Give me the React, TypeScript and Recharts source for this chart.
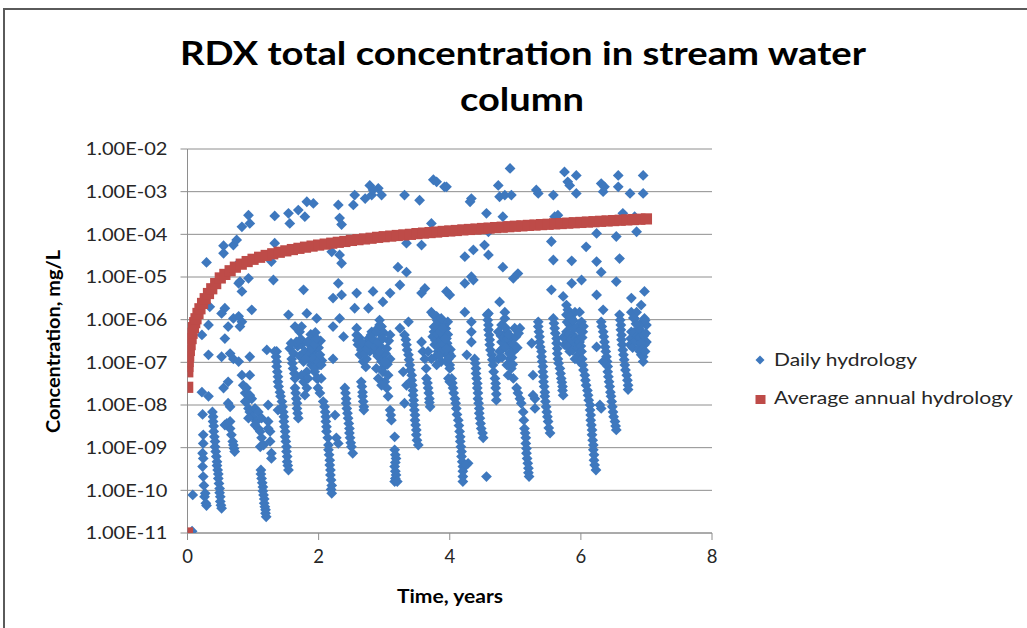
import React from 'react';
import { ScatterChart, Scatter, XAxis, YAxis, CartesianGrid } from 'recharts';

const chartTitle = ['RDX total concentration in stream water', 'column'];
const xAxisTitle = 'Time, years';
const yAxisTitle = 'Concentration, mg/L';
const seriesNames = ['Daily hydrology', 'Average annual hydrology'];
const xTicks = [0, 2, 4, 6, 8];
const yTicks = [1e-11, 1e-10, 1e-9, 1e-8, 1e-7, 1e-6, 1e-5, 1e-4, 1e-3, 1e-2];
const yTickLabels = ['1.00E-11', '1.00E-10', '1.00E-09', '1.00E-08', '1.00E-07', '1.00E-06', '1.00E-05', '1.00E-04', '1.00E-03', '1.00E-02'];

// Daily hydrology, year 0-2 (time in years, concentration mg/L)
const dailyYears0to2: [number, number][] = [
  [0.07, 1.1e-11], [0.08, 7.8e-11],
  [0.29, 2.2e-5], [0.55, 5.4e-5], [0.55, 3.6e-5], [0.70, 5.6e-5], [0.75, 7.4e-5], [0.83, 1.5e-4], [0.93, 2.8e-4], [0.95, 1.8e-4],
  [0.57, 1.85e-6], [0.52, 1.4e-6], [0.34, 2.0e-6], [0.32, 7.5e-7], [0.22, 4.4e-7], [0.62, 6.9e-7], [0.57, 3.6e-7], [0.70, 1.07e-6],
  [0.78, 1.2e-6], [0.83, 8.9e-7], [0.80, 6.9e-7], [0.98, 1.7e-6], [0.78, 7.1e-6], [0.83, 4.6e-6], [0.93, 9.3e-6], [0.80, 7.8e-6], [0.75, 1.9e-5],
  [1.33, 2.7e-4], [1.33, 6.2e-5], [1.28, 2.3e-5], [1.31, 8.5e-6], [1.54, 3.1e-4], [1.56, 1.8e-4], [1.69, 3.7e-4], [1.82, 5.8e-4], [1.92, 5.3e-4],
  [1.79, 2.6e-4], [1.77, 5.0e-6], [1.54, 1.3e-6], [1.64, 6.9e-7], [1.82, 1.4e-6], [1.74, 6.9e-7],
  [0.32, 1.5e-7], [0.52, 1.35e-7], [0.65, 1.6e-7], [0.70, 1.2e-7], [0.78, 1.04e-7], [0.95, 1.35e-7], [1.21, 1.95e-7], [1.36, 1.8e-7],
  [0.22, 2.0e-8], [0.32, 1.6e-8], [0.55, 2.5e-8], [0.62, 3.5e-8], [0.83, 5.0e-8], [0.95, 5.0e-8], [0.62, 1.1e-8], [0.65, 9.1e-9],
  [1.23, 1.0e-8], [1.38, 7.6e-9], [1.11, 1.05e-9],
  [0.23, 6.0e-9], [0.24, 2.0e-9], [0.24, 1.26e-9], [0.23, 7.4e-10], [0.24, 5.6e-10], [0.23, 3.6e-10], [0.24, 2.1e-10], [0.25, 1.3e-10],
  [0.26, 7.1e-11], [0.27, 8.5e-11], [0.28, 5.0e-11], [0.29, 4.4e-11],
  [0.38, 6.9e-9], [0.39, 5.3e-9], [0.39, 4.1e-9], [0.40, 3.2e-9], [0.40, 2.4e-9], [0.41, 1.8e-9], [0.42, 1.4e-9], [0.42, 1.05e-9],
  [0.43, 8.1e-10], [0.44, 6.2e-10], [0.45, 4.7e-10], [0.45, 3.8e-10], [0.46, 3.0e-10], [0.47, 2.4e-10], [0.47, 1.9e-10], [0.48, 1.45e-10],
  [0.49, 1.1e-10], [0.49, 8.8e-11], [0.50, 7.1e-11], [0.50, 5.5e-11], [0.51, 4.5e-11], [0.52, 3.8e-11],
  [0.60, 3.7e-9], [0.65, 2.8e-9], [0.67, 2.0e-9], [0.69, 1.4e-9], [0.71, 9.6e-10], [0.72, 8.1e-10], [0.57, 3.4e-9], [0.65, 4.1e-9], [0.70, 1.15e-9],
  [0.85, 2.9e-8], [0.88, 1.9e-8], [0.90, 1.2e-8], [0.93, 8.3e-9], [0.95, 6.9e-9], [1.00, 5.3e-9], [1.05, 4.1e-9], [1.08, 2.8e-9],
  [1.11, 2.4e-9], [1.13, 1.7e-9], [0.98, 1.4e-8], [1.03, 8.3e-9], [1.08, 6.9e-9], [1.13, 4.9e-9], [0.90, 2.5e-8], [0.95, 1.7e-8],
  [0.88, 1.2e-8], [0.93, 4.9e-9], [1.03, 3.4e-9], [1.16, 1.15e-9],
  [1.12, 3.0e-10], [1.12, 2.4e-10], [1.13, 1.9e-10], [1.14, 1.5e-10], [1.15, 1.2e-10], [1.15, 9.6e-11], [1.16, 7.8e-11], [1.17, 6.3e-11],
  [1.17, 5.0e-11], [1.18, 4.1e-11], [1.19, 3.5e-11], [1.19, 2.9e-11], [1.20, 2.4e-11],
  [1.23, 4.1e-9], [1.26, 2.4e-9], [1.26, 1.4e-9], [1.28, 7.4e-10], [1.28, 5.6e-10], [1.23, 2.8e-9],
  [1.33, 1.8e-7], [1.35, 1.35e-7], [1.36, 1.04e-7], [1.36, 8.0e-8], [1.37, 6.0e-8], [1.38, 4.6e-8], [1.38, 3.5e-8], [1.39, 2.7e-8],
  [1.41, 2.0e-8], [1.42, 1.6e-8], [1.44, 1.2e-8], [1.45, 9.1e-9], [1.46, 6.9e-9], [1.47, 5.3e-9], [1.47, 4.1e-9], [1.48, 3.1e-9],
  [1.49, 2.4e-9], [1.49, 1.8e-9], [1.50, 1.4e-9], [1.51, 1.05e-9], [1.51, 8.1e-10], [1.52, 6.2e-10], [1.52, 4.7e-10], [1.53, 3.8e-10], [1.54, 3.0e-10],
  [1.56, 2.1e-7], [1.59, 1.2e-7], [1.60, 9.5e-8], [1.61, 7.2e-8], [1.63, 5.5e-8], [1.64, 4.2e-8], [1.64, 2.5e-8], [1.65, 1.9e-8],
  [1.66, 1.4e-8], [1.67, 1.1e-8], [1.67, 8.3e-9], [1.68, 6.4e-9], [1.69, 4.9e-9],
  [1.74, 2.6e-7], [1.79, 1.8e-7], [1.84, 1.2e-7], [1.89, 8.7e-8], [1.94, 6.0e-8], [1.99, 4.2e-8], [1.77, 1.04e-7], [1.82, 6.0e-8],
  [1.87, 2.6e-7], [1.92, 1.8e-7], [1.97, 1.2e-7], [2.02, 8.7e-8], [1.74, 5.0e-8], [1.82, 2.5e-8], [1.77, 3.5e-8], [1.79, 1.7e-8],
  [1.84, 4.2e-8], [1.89, 3.6e-7], [1.71, 5.2e-7], [1.97, 3.0e-7],
  [1.62, 1.6e-7], [1.68, 2.4e-7], [1.71, 1.4e-7], [1.73, 3.5e-7], [1.66, 3.0e-7], [1.58, 2.8e-7],
  [1.86, 1.5e-7], [1.90, 2.2e-7], [1.93, 1.4e-7], [1.96, 9.0e-8], [2.00, 1.3e-7], [1.88, 4.5e-7], [1.92, 3.0e-7], [1.95, 5.0e-7],
  [2.00, 2.2e-7], [2.03, 3.2e-7], [2.05, 1.1e-7], [1.83, 3.0e-7], [1.80, 1.2e-7],
];

// Daily hydrology, years 2-4
const dailyYears2to4: [number, number][] = [
  [2.30, 4.9e-4], [2.32, 2.4e-4], [2.35, 1.7e-4], [2.53, 4.9e-4], [2.55, 8.3e-4], [2.71, 6.9e-4], [2.78, 1.4e-3], [2.81, 8.3e-4],
  [2.91, 1.2e-3], [2.96, 8.3e-4], [3.31, 8.3e-4], [3.54, 6.3e-4], [3.75, 1.9e-3], [3.80, 1.7e-3], [3.92, 1.3e-3], [2.83, 1.1e-3],
  [2.20, 3.9e-5], [2.32, 3.3e-5], [2.35, 2.1e-5], [3.34, 6.2e-5], [3.57, 5.6e-5], [3.21, 1.7e-5], [3.34, 1.3e-5], [3.72, 1.8e-4],
  [2.30, 7.1e-6], [2.22, 3.2e-6], [2.35, 3.8e-6], [2.58, 4.2e-6], [2.55, 1.85e-6], [2.76, 1.85e-6], [2.83, 4.6e-6], [2.98, 2.6e-6],
  [3.09, 4.2e-6], [3.24, 6.5e-6], [3.57, 4.2e-6], [3.62, 5.4e-6], [3.95, 4.6e-6],
  [1.97, 1.07e-6], [2.32, 1.07e-6], [2.22, 6.9e-7], [2.38, 4.0e-7], [2.58, 6.3e-7], [2.93, 9.8e-7], [2.96, 6.9e-7], [3.24, 6.3e-7],
  [3.37, 8.9e-7], [3.72, 1.5e-6], [3.80, 1.2e-6], [2.22, 1.2e-7],
  [1.89, 2.1e-7], [1.92, 1.2e-7], [1.94, 7.2e-8], [1.97, 4.2e-8], [1.99, 2.5e-8], [2.02, 1.9e-8], [1.99, 1.04e-7], [1.94, 2.6e-7],
  [2.04, 4.2e-8], [1.97, 3.6e-7], [2.04, 8.7e-8], [2.02, 1.5e-7],
  [2.07, 1.2e-8], [2.09, 9.1e-9], [2.10, 6.9e-9], [2.11, 5.3e-9], [2.11, 4.1e-9], [2.12, 3.1e-9], [2.12, 2.4e-9], [2.14, 1.7e-9],
  [2.15, 1.15e-9], [2.15, 8.9e-10], [2.16, 6.8e-10], [2.17, 5.1e-10], [2.17, 3.9e-10], [2.18, 3.0e-10], [2.18, 2.3e-10], [2.19, 1.75e-10],
  [2.20, 1.3e-10], [2.19, 1.05e-10], [2.20, 8.5e-11],
  [2.27, 1.7e-9], [2.30, 1.26e-9], [2.25, 5.8e-9],
  [2.40, 2.5e-8], [2.41, 1.9e-8], [2.42, 1.4e-8], [2.42, 1.1e-8], [2.43, 8.3e-9], [2.44, 6.4e-9], [2.45, 4.9e-9], [2.46, 3.7e-9],
  [2.47, 2.8e-9], [2.47, 2.2e-9], [2.48, 1.7e-9], [2.49, 1.3e-9], [2.50, 1.05e-9], [2.52, 7.4e-10],
  [2.58, 4.4e-7], [2.60, 2.6e-7], [2.63, 1.5e-7], [2.68, 1.04e-7], [2.73, 1.2e-7], [2.78, 1.8e-7], [2.71, 2.6e-7], [2.76, 3.6e-7],
  [2.81, 5.2e-7], [2.83, 2.6e-7], [2.86, 1.8e-7], [2.59, 3.3e-7], [2.65, 1.95e-7], [2.72, 7.8e-8],
  [2.62, 3.8e-7], [2.66, 2.9e-7], [2.70, 1.6e-7], [2.74, 2.1e-7], [2.78, 2.7e-7], [2.80, 4.4e-7], [2.84, 3.4e-7], [2.87, 2.3e-7],
  [2.90, 1.4e-7], [2.94, 2.4e-7], [2.97, 1.4e-7], [3.00, 8.0e-8], [3.02, 1.6e-7], [3.05, 9.0e-8], [2.95, 4.5e-7], [2.90, 6.2e-7],
  [2.99, 5.0e-7], [3.07, 3.2e-7],
  [2.65, 3.5e-8], [2.66, 2.7e-8], [2.67, 2.0e-8], [2.67, 1.6e-8], [2.68, 1.2e-8], [2.69, 9.1e-9], [2.69, 7.6e-9],
  [2.88, 5.2e-7], [2.91, 3.0e-7], [2.93, 1.8e-7], [2.96, 1.04e-7], [2.98, 6.0e-8], [3.01, 3.5e-8], [3.04, 2.5e-8], [3.06, 1.6e-8],
  [2.93, 7.5e-7], [2.98, 3.6e-7], [3.04, 2.1e-7], [3.09, 1.2e-7], [2.91, 4.2e-8], [2.96, 2.9e-8], [3.01, 1.04e-7], [3.06, 5.0e-8],
  [2.88, 7.2e-8], [3.09, 4.4e-7],
  [3.09, 7.6e-9], [3.10, 5.8e-9], [3.11, 4.4e-9], [3.16, 1.8e-9],
  [3.16, 8.9e-10], [3.17, 6.8e-10], [3.18, 5.6e-10], [3.17, 4.5e-10], [3.16, 3.6e-10], [3.17, 2.8e-10], [3.18, 2.3e-10], [3.17, 1.9e-10],
  [3.16, 1.6e-10], [3.20, 1.6e-10],
  [3.31, 4.4e-7], [3.33, 3.4e-7], [3.34, 2.6e-7], [3.35, 1.95e-7], [3.37, 1.5e-7], [3.38, 1.15e-7], [3.39, 8.7e-8], [3.40, 6.6e-8],
  [3.42, 5.0e-8], [3.42, 3.8e-8], [3.43, 2.9e-8], [3.44, 2.2e-8], [3.44, 1.7e-8], [3.45, 1.3e-8], [3.45, 1.0e-8], [3.46, 7.6e-9],
  [3.47, 5.8e-9], [3.47, 4.4e-9], [3.48, 3.4e-9], [3.49, 2.6e-9], [3.49, 2.0e-9], [3.50, 1.5e-9], [3.52, 1.15e-9],
  [3.34, 2.9e-8], [3.31, 1.1e-8], [3.29, 6.0e-8],
  [3.57, 3.0e-7], [3.59, 1.8e-7], [3.62, 1.2e-7], [3.67, 1.8e-7], [3.64, 7.2e-8], [3.645, 4.2e-8], [3.66, 3.3e-8], [3.67, 2.5e-8],
  [3.68, 1.9e-8], [3.69, 1.4e-8], [3.69, 1.15e-8], [3.70, 9.1e-9],
  [3.75, 1.3e-6], [3.80, 7.5e-7], [3.85, 4.4e-7], [3.90, 2.6e-7], [3.95, 1.5e-7], [4.00, 8.7e-8], [3.77, 2.6e-7], [3.82, 1.8e-7],
  [3.87, 1.04e-7], [3.92, 5.2e-7], [3.97, 8.9e-7], [4.00, 3.5e-8], [3.76, 5.2e-7], [3.85, 2.6e-7], [3.90, 7.5e-7], [3.95, 3.6e-7],
  [3.80, 8.7e-8], [3.72, 1.2e-7],
  [3.74, 4.0e-7], [3.78, 3.3e-7], [3.81, 4.6e-7], [3.83, 2.2e-7], [3.86, 3.3e-7], [3.88, 1.9e-7], [3.91, 3.9e-7], [3.93, 2.7e-7],
  [3.96, 2.8e-7], [3.99, 1.6e-7], [4.01, 2.0e-7], [3.79, 1.4e-7], [3.84, 1.4e-7], [3.89, 8.5e-7], [3.94, 6.2e-7], [3.97, 4.5e-7],
  [4.02, 1.4e-7], [3.76, 6.8e-7], [3.81, 9.5e-7],
];

// Daily hydrology, years 4-6
const dailyYears4to6: [number, number][] = [
  [3.95, 1.3e-3], [4.31, 5.8e-4], [4.33, 6.9e-4], [4.56, 3.1e-4], [4.74, 1.4e-3], [4.76, 7.6e-4], [4.84, 8.3e-4], [4.92, 3.5e-3],
  [4.94, 8.3e-4], [4.81, 2.6e-4], [5.32, 1.1e-3], [5.35, 9.1e-4], [5.58, 8.3e-4], [5.60, 2.6e-4], [5.65, 2.8e-4], [5.75, 2.9e-3],
  [5.80, 1.7e-3], [5.83, 1.4e-3], [5.93, 2.4e-3], [5.93, 9.1e-4],
  [4.59, 1.15e-4], [4.53, 5.6e-5], [4.59, 3.3e-5], [4.36, 4.3e-5], [4.23, 3.0e-5], [5.55, 6.8e-5], [5.58, 2.5e-5], [5.86, 2.4e-5],
  [4.81, 1.7e-5], [4.97, 9.3e-6], [5.04, 1.2e-5], [4.23, 7.1e-6], [4.33, 1.02e-5], [4.36, 8.5e-6], [4.00, 3.8e-6], [4.76, 2.6e-6],
  [5.55, 5.0e-6], [5.73, 3.5e-6], [5.86, 7.1e-6], [5.78, 2.2e-6], [5.80, 1.7e-6],
  [4.23, 1.5e-6], [4.84, 1.5e-6], [4.59, 1.4e-6], [4.26, 1.5e-7], [5.25, 2.8e-7], [5.27, 5.0e-8],
  [3.85, 5.2e-7], [3.87, 1.07e-6], [3.90, 6.3e-7], [3.90, 2.6e-7], [3.93, 3.6e-7], [3.95, 2.1e-7], [3.95, 1.04e-7], [3.98, 1.2e-7],
  [3.98, 4.2e-8], [4.00, 7.2e-8], [4.03, 4.2e-8], [4.04, 3.3e-8], [4.05, 2.5e-8], [4.06, 1.9e-8], [4.08, 1.4e-8], [4.09, 1.1e-8],
  [4.10, 8.3e-9], [4.11, 6.0e-9], [4.13, 4.4e-9], [4.14, 3.3e-9], [4.15, 2.4e-9], [4.16, 1.8e-9], [4.16, 1.4e-9], [4.17, 1.05e-9],
  [4.18, 8.1e-10], [4.18, 6.2e-10], [4.19, 4.7e-10], [4.20, 3.6e-10], [4.20, 2.8e-10], [4.20, 2.1e-10], [4.20, 1.6e-10],
  [4.28, 4.3e-10], [4.25, 3.9e-10],
  [4.33, 8.9e-7], [4.33, 5.2e-7], [4.33, 3.0e-7],
  [4.38, 1.2e-7], [4.39, 9.5e-8], [4.40, 7.2e-8], [4.40, 5.5e-8], [4.41, 4.2e-8], [4.42, 3.2e-8], [4.42, 2.5e-8], [4.43, 1.9e-8],
  [4.43, 1.4e-8], [4.44, 1.1e-8], [4.45, 8.3e-9], [4.45, 6.4e-9], [4.46, 4.9e-9], [4.47, 3.7e-9], [4.48, 2.8e-9], [4.50, 2.2e-9], [4.51, 1.7e-9],
  [4.56, 2.1e-10],
  [4.57, 1.3e-6], [4.58, 9.8e-7], [4.59, 7.5e-7], [4.59, 5.8e-7], [4.60, 4.4e-7], [4.61, 3.4e-7], [4.61, 2.6e-7], [4.62, 1.95e-7],
  [4.64, 1.5e-7], [4.65, 1.15e-7], [4.66, 8.7e-8], [4.67, 6.0e-8], [4.69, 4.2e-8], [4.70, 3.2e-8], [4.70, 2.5e-8], [4.71, 1.8e-8], [4.71, 1.3e-8],
  [4.74, 5.2e-7], [4.79, 7.5e-7], [4.84, 1.07e-6], [4.87, 5.2e-7], [4.89, 2.6e-7], [4.92, 1.2e-7], [4.94, 7.2e-8], [4.97, 4.2e-8],
  [5.02, 2.5e-8], [5.07, 1.4e-8], [4.81, 2.1e-7], [4.87, 8.7e-8], [4.76, 1.8e-7], [4.99, 6.3e-7], [5.07, 6.3e-7], [4.79, 3.0e-7],
  [4.92, 3.6e-7], [4.97, 1.8e-7], [4.89, 5.0e-8], [5.04, 1.9e-8], [5.09, 1.1e-8], [4.74, 1.2e-7],
  [4.78, 4.2e-7], [4.82, 3.8e-7], [4.85, 6.5e-7], [4.88, 3.6e-7], [4.90, 4.5e-7], [4.93, 2.5e-7], [4.95, 1.3e-7], [4.98, 2.6e-7],
  [5.01, 4.0e-7], [5.03, 2.2e-7], [4.80, 1.3e-7], [4.85, 2.2e-7], [4.91, 1.6e-7], [4.96, 9.0e-8], [5.05, 4.8e-7],
  [5.12, 6.9e-9], [5.13, 4.4e-9], [5.14, 2.8e-9], [5.15, 2.2e-9], [5.16, 1.7e-9], [5.16, 1.26e-9], [5.17, 9.6e-10], [5.17, 7.4e-10],
  [5.18, 5.6e-10], [5.19, 4.3e-10], [5.20, 3.3e-10], [5.20, 2.6e-10], [5.21, 2.1e-10],
  [5.30, 1.4e-8], [5.30, 8.3e-9], [5.27, 1.7e-8],
  [5.35, 8.9e-7], [5.35, 6.9e-7], [5.36, 5.2e-7], [5.37, 4.0e-7], [5.37, 3.0e-7], [5.38, 2.3e-7], [5.40, 1.8e-7], [5.40, 1.35e-7],
  [5.41, 1.04e-7], [5.42, 8.0e-8], [5.42, 6.0e-8], [5.43, 4.6e-8], [5.43, 3.5e-8], [5.44, 2.7e-8], [5.45, 2.0e-8], [5.45, 1.6e-8],
  [5.46, 1.2e-8], [5.47, 9.1e-9], [5.48, 6.9e-9], [5.49, 5.3e-9], [5.50, 4.1e-9], [5.51, 2.9e-9], [5.53, 2.2e-9],
  [5.58, 1.07e-6], [5.59, 8.2e-7], [5.60, 6.3e-7], [5.61, 4.8e-7], [5.63, 3.6e-7], [5.63, 2.8e-7], [5.64, 2.1e-7], [5.64, 1.6e-7],
  [5.65, 1.2e-7], [5.66, 9.5e-8], [5.68, 7.2e-8], [5.69, 5.5e-8], [5.70, 4.2e-8], [5.71, 3.4e-8], [5.72, 2.7e-8], [5.72, 2.2e-8], [5.73, 1.7e-8],
  [5.78, 1.3e-6], [5.83, 7.5e-7], [5.88, 4.4e-7], [5.93, 2.6e-7], [5.96, 1.5e-7], [5.98, 1.04e-7], [5.75, 2.6e-7], [5.80, 3.6e-7],
  [5.86, 1.07e-6], [5.91, 1.5e-6], [5.78, 5.2e-7], [5.86, 2.6e-7], [5.91, 1.2e-7], [5.83, 1.8e-7],
  [5.74, 4.0e-7], [5.77, 3.4e-7], [5.80, 2.3e-7], [5.82, 4.6e-7], [5.85, 3.5e-7], [5.87, 1.9e-7], [5.89, 6.2e-7], [5.92, 3.6e-7],
  [5.95, 2.2e-7], [5.97, 3.5e-7], [5.79, 8.8e-7], [5.84, 1.2e-6], [5.88, 9.5e-7], [5.94, 6.8e-7],
];

// Daily hydrology, years 6-7
const dailyYears6to7: [number, number][] = [
  [6.31, 1.55e-3], [6.34, 1.0e-3], [6.36, 1.3e-3], [6.57, 2.4e-3], [6.57, 1.3e-3], [6.75, 9.1e-4], [6.95, 2.4e-3], [6.95, 9.1e-4],
  [6.64, 3.1e-4], [6.82, 2.6e-4], [6.85, 1.15e-4], [6.24, 1.05e-4], [6.54, 8.9e-5], [6.08, 5.1e-5], [6.59, 2.7e-5], [6.24, 2.3e-5],
  [6.31, 1.3e-5], [6.54, 7.8e-6], [6.01, 8.5e-6], [6.24, 3.8e-6], [6.77, 3.2e-6], [6.97, 4.6e-6], [6.34, 1.7e-6], [6.92, 2.2e-6], [6.24, 2.3e-7],
  [5.98, 1.5e-6], [6.01, 8.9e-7], [6.03, 5.2e-7], [5.98, 3.0e-7], [6.00, 2.4e-7], [6.02, 3.8e-7], [5.99, 5.4e-7], [6.04, 7.0e-7],
  [6.01, 1.8e-7], [6.02, 1.2e-7], [6.03, 8.7e-8], [6.04, 6.6e-8], [6.06, 5.0e-8], [6.07, 3.8e-8], [6.08, 2.9e-8], [6.10, 2.2e-8],
  [6.11, 1.7e-8], [6.12, 1.3e-8], [6.14, 1.0e-8], [6.14, 7.6e-9], [6.15, 5.8e-9], [6.15, 4.4e-9], [6.16, 3.4e-9], [6.17, 2.6e-9],
  [6.17, 2.0e-9], [6.18, 1.5e-9], [6.19, 1.15e-9], [6.19, 8.9e-10], [6.20, 6.8e-10], [6.20, 5.1e-10], [6.21, 3.9e-10], [6.23, 3.0e-10],
  [6.29, 1.0e-8], [6.31, 8.3e-9],
  [6.31, 8.9e-7], [6.32, 6.9e-7], [6.34, 5.2e-7], [6.35, 4.0e-7], [6.36, 3.0e-7], [6.37, 2.3e-7], [6.38, 1.8e-7], [6.39, 1.35e-7],
  [6.40, 1.04e-7], [6.41, 8.0e-8], [6.41, 6.0e-8], [6.42, 4.6e-8], [6.43, 3.5e-8], [6.44, 2.7e-8], [6.45, 2.0e-8], [6.46, 1.6e-8],
  [6.47, 1.2e-8], [6.48, 9.1e-9], [6.49, 6.9e-9], [6.50, 5.3e-9], [6.52, 4.1e-9], [6.53, 3.2e-9], [6.54, 2.6e-9], [6.34, 1.04e-7],
  [6.59, 1.3e-6], [6.60, 9.8e-7], [6.61, 7.5e-7], [6.61, 5.8e-7], [6.62, 4.4e-7], [6.62, 3.4e-7], [6.63, 2.6e-7], [6.64, 1.95e-7],
  [6.65, 1.5e-7], [6.66, 1.15e-7], [6.67, 8.7e-8], [6.68, 6.6e-8], [6.70, 5.0e-8], [6.71, 3.8e-8], [6.72, 2.9e-8], [6.72, 2.3e-8],
  [6.77, 1.5e-6], [6.82, 1.07e-6], [6.87, 7.5e-7], [6.92, 5.2e-7], [6.95, 3.0e-7], [7.00, 3.0e-7], [6.95, 1.04e-7], [6.90, 1.8e-7],
  [6.75, 2.6e-7], [6.80, 3.6e-7], [6.85, 1.5e-6], [6.97, 1.07e-6], [7.00, 7.5e-7], [6.77, 5.2e-7], [6.85, 5.2e-7], [6.92, 1.5e-7],
  [6.87, 3.0e-7], [6.97, 2.6e-7], [6.95, 1.35e-7],
  [6.76, 3.6e-7], [6.79, 2.2e-7], [6.81, 5.0e-7], [6.83, 3.2e-7], [6.86, 4.1e-7], [6.88, 2.1e-7], [6.90, 3.9e-7], [6.92, 2.8e-7],
  [6.94, 2.0e-7], [6.96, 4.2e-7], [6.98, 1.8e-7], [6.99, 4.8e-7], [6.89, 6.3e-7], [6.93, 8.5e-7], [6.98, 9.6e-7], [6.84, 8.0e-7], [6.80, 1.1e-6],
];

// Average annual hydrology
const annualHydrology: [number, number][] = [
  [0, 1e-11], [0.003, 2.6e-8], [0.004, 6e-8], [0.006, 8e-8], [0.01, 1.05e-7], [0.018, 1.4e-7], [0.028, 1.9e-7], [0.04, 2.6e-7],
  [0.055, 3.6e-7], [0.07, 4.8e-7], [0.09, 6.5e-7], [0.11, 8.5e-7], [0.13, 1.05e-6], [0.16, 1.4e-6], [0.19, 1.8e-6], [0.23, 2.4e-6],
  [0.27, 3.1e-6], [0.32, 4.1e-6], [0.37, 5.3e-6], [0.43, 7.0e-6], [0.5, 9.5e-6], [0.57, 1.15e-5], [0.65, 1.4e-5], [0.73, 1.7e-5],
  [0.82, 2.0e-5], [0.91, 2.3e-5], [1.0, 2.6e-5], [1.1, 2.9e-5], [1.2, 3.2e-5], [1.3, 3.5e-5], [1.4, 3.8e-5], [1.5, 4.1e-5],
  [1.6, 4.4e-5], [1.7, 4.7e-5], [1.8, 5.0e-5], [1.9, 5.3e-5], [2.0, 5.6e-5], [2.1, 5.9e-5], [2.2, 6.2e-5], [2.3, 6.5e-5],
  [2.4, 6.8e-5], [2.5, 7.2e-5], [2.6, 7.5e-5], [2.7, 7.8e-5], [2.8, 8.1e-5], [2.9, 8.5e-5], [3.0, 8.8e-5], [3.1, 9.1e-5],
  [3.2, 9.4e-5], [3.3, 9.7e-5], [3.4, 1.0e-4], [3.5, 1.04e-4], [3.6, 1.07e-4], [3.7, 1.1e-4], [3.8, 1.13e-4], [3.9, 1.17e-4],
  [4.0, 1.2e-4], [4.1, 1.23e-4], [4.2, 1.27e-4], [4.3, 1.3e-4], [4.4, 1.33e-4], [4.5, 1.37e-4], [4.6, 1.4e-4], [4.7, 1.44e-4],
  [4.8, 1.47e-4], [4.9, 1.51e-4], [5.0, 1.55e-4], [5.1, 1.58e-4], [5.2, 1.62e-4], [5.3, 1.65e-4], [5.4, 1.69e-4], [5.5, 1.72e-4],
  [5.6, 1.76e-4], [5.7, 1.79e-4], [5.8, 1.83e-4], [5.9, 1.87e-4], [6.0, 1.9e-4], [6.1, 1.94e-4], [6.2, 1.98e-4], [6.3, 2.02e-4],
  [6.4, 2.06e-4], [6.5, 2.1e-4], [6.6, 2.14e-4], [6.7, 2.18e-4], [6.8, 2.22e-4], [6.9, 2.26e-4], [7.0, 2.3e-4],
];

const BLUE = '#3E78BE';
const RED = '#BE4B48';
const GRID = '#8E8E8E';
const TEXT = '#262626';
const FONT = 'Lato, "Open Sans", sans-serif';

const toPoints = (rows: [number, number][]) => rows.map(([x, y]) => ({ x, y }));
const dailyData = toPoints([...dailyYears0to2, ...dailyYears2to4, ...dailyYears4to6, ...dailyYears6to7]);
const annualData = toPoints(annualHydrology);

const Diamond = (props: any) => {
  const { cx, cy } = props;
  if (cx == null || cy == null) return null;
  const r = 5.4;
  return <polygon points={`${cx},${cy - r} ${cx + r},${cy} ${cx},${cy + r} ${cx - r},${cy}`} fill={BLUE} />;
};

const Square = (props: any) => {
  const { cx, cy } = props;
  if (cx == null || cy == null) return null;
  const h = 5.6;
  return <rect x={cx - h} y={cy - h} width={2 * h} height={2 * h} fill={RED} />;
};

const yLabel = (v: number) => {
  const idx = yTicks.findIndex((t) => Math.abs(Math.log10(t) - Math.log10(v)) < 0.01);
  return idx >= 0 ? yTickLabels[idx] : '';
};

const YTick = (props: any) => {
  const { x, y, payload } = props;
  return (
    <text x={x} y={y + 6.3} textAnchor="end" fontFamily={FONT} fontSize={17.5} fill={TEXT} textLength={82} lengthAdjust="spacingAndGlyphs">
      {yLabel(payload.value)}
    </text>
  );
};

const XTick = (props: any) => {
  const { x, y, payload } = props;
  return (
    <text x={x} y={y + 13} textAnchor="middle" fontFamily={FONT} fontSize={18.5} fill={TEXT}>
      {payload.value}
    </text>
  );
};

export default function App() {
  return (
    <div style={{ position: 'absolute', left: 0, top: 0, width: 1027, height: 628, background: '#fff', overflow: 'hidden' }}>
      <div style={{ position: 'absolute', left: 3, top: 8, width: 1040, height: 640, border: '2px solid #5a5a5a', boxSizing: 'border-box' }} />
      <div style={{ position: 'absolute', left: 0, top: 0 }}>
        <ScatterChart width={1027} height={628} margin={{ top: 149, right: 315, bottom: 65, left: 87.5 }}>
          <CartesianGrid vertical={false} stroke={GRID} strokeWidth={1} />
          <XAxis
            type="number"
            dataKey="x"
            domain={[0, 8]}
            ticks={xTicks}
            interval={0}
            allowDataOverflow
            axisLine={{ stroke: GRID }}
            tickLine={{ stroke: GRID }}
            tickSize={7}
            tickMargin={10}
            height={30}
            tick={<XTick />}
          />
          <YAxis
            type="number"
            dataKey="y"
            scale="log"
            domain={[1e-11, 1e-2]}
            ticks={yTicks}
            interval={0}
            allowDataOverflow
            axisLine={{ stroke: GRID }}
            tickLine={{ stroke: GRID }}
            tickSize={7}
            tickMargin={13}
            width={100}
            tick={<YTick />}
          />
          <Scatter name={seriesNames[0]} data={dailyData} shape={Diamond} isAnimationActive={false} />
          <Scatter name={seriesNames[1]} data={annualData} shape={Square} isAnimationActive={false} />
        </ScatterChart>
      </div>
      <svg width={1027} height={628} style={{ position: 'absolute', left: 0, top: 0, pointerEvents: 'none' }}>
        <text x={523} y={65} textAnchor="middle" fontFamily={FONT} fontWeight={700} fontSize={33} fill="#000" textLength={686} lengthAdjust="spacingAndGlyphs">{chartTitle[0]}</text>
        <text x={522} y={111} textAnchor="middle" fontFamily={FONT} fontWeight={700} fontSize={33} fill="#000" textLength={124} lengthAdjust="spacingAndGlyphs">{chartTitle[1]}</text>
        <text x={450} y={603} textAnchor="middle" fontFamily={FONT} fontWeight={700} fontSize={19} fill="#000" textLength={106} lengthAdjust="spacingAndGlyphs">{xAxisTitle}</text>
        <text x={60} y={341.5} textAnchor="middle" fontFamily={FONT} fontWeight={700} fontSize={18.5} fill="#000" textLength={183} lengthAdjust="spacingAndGlyphs" transform="rotate(-90 60 341.5)">{yAxisTitle}</text>
        <polygon points="760,355.5 764.5,360 760,364.5 755.5,360" fill={BLUE} />
        <text x={774} y={366} fontFamily={FONT} fontSize={18} fill={TEXT} textLength={143} lengthAdjust="spacingAndGlyphs">{seriesNames[0]}</text>
        <rect x={755.5} y={395} width={10} height={9} fill={RED} />
        <text x={774} y={404} fontFamily={FONT} fontSize={18} fill={TEXT} textLength={239} lengthAdjust="spacingAndGlyphs">{seriesNames[1]}</text>
      </svg>
    </div>
  );
}
